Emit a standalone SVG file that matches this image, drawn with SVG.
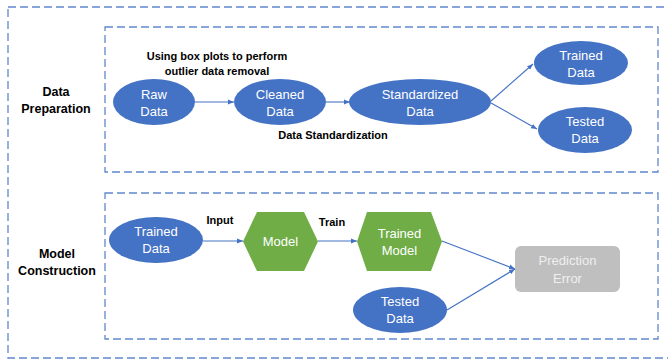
<svg xmlns="http://www.w3.org/2000/svg" width="668" height="360" viewBox="0 0 668 360">
<style>
.frame{fill:none;stroke:#4472C4;stroke-width:1.3;stroke-dasharray:8,4;opacity:0.85}
.ell{fill:#4472C4}
.hex{fill:#70AD47}
.nt{font-family:"Liberation Sans",Arial,sans-serif;font-size:13px;fill:#ffffff;text-anchor:middle}
.lb{font-family:"Liberation Sans",Arial,sans-serif;font-size:11px;font-weight:bold;fill:#000000;text-anchor:middle}
.sec{font-family:"Liberation Sans",Arial,sans-serif;font-size:12.5px;font-weight:bold;fill:#000000;text-anchor:middle}
.conn line{stroke:#4472C4;stroke-width:1.1;marker-end:url(#ah)}
</style>
<defs>
<marker id="ah" viewBox="0 0 10 10" refX="10" refY="5" markerWidth="6" markerHeight="6" orient="auto" markerUnits="userSpaceOnUse">
<path d="M0,1 L10,5 L0,9 z" fill="#4472C4"/>
</marker>
</defs>
<rect class="frame" x="8" y="7" width="680" height="351"/>
<rect class="frame" x="105" y="27" width="553" height="145"/>
<rect class="frame" x="105" y="193" width="553" height="146"/>
<text class="sec" x="56" y="96">Data</text>
<text class="sec" x="56" y="113">Preparation</text>
<text class="sec" x="57" y="258">Model</text>
<text class="sec" x="57" y="275">Construction</text>
<text class="lb" x="217" y="60">Using box plots to perform</text>
<text class="lb" x="217" y="75">outlier data removal</text>
<text class="lb" x="333" y="139">Data Standardization</text>
<text class="lb" x="220" y="224">Input</text>
<text class="lb" x="332" y="226">Train</text>
<g class="conn">
<line x1="195" y1="102" x2="234" y2="102"/>
<line x1="326" y1="102" x2="350" y2="102"/>
<line x1="491" y1="101" x2="533" y2="64"/>
<line x1="491" y1="103" x2="537" y2="129"/>
<line x1="203" y1="241" x2="243" y2="241"/>
<line x1="318" y1="241" x2="357" y2="241"/>
<line x1="442" y1="241" x2="515" y2="269"/>
<line x1="447" y1="310" x2="515" y2="269"/>
</g>
<g id="raw"><ellipse class="ell" cx="154" cy="102" rx="41" ry="23"/><text class="nt" x="154" y="99">Raw</text><text class="nt" x="154" y="116">Data</text></g>
<g id="cleaned"><ellipse class="ell" cx="280" cy="102" rx="46" ry="23"/><text class="nt" x="280" y="99">Cleaned</text><text class="nt" x="280" y="116">Data</text></g>
<g id="standardized"><ellipse class="ell" cx="420" cy="102" rx="71" ry="23"/><text class="nt" x="420" y="99">Standardized</text><text class="nt" x="420" y="116">Data</text></g>
<g id="trained1"><ellipse class="ell" cx="581" cy="63" rx="47" ry="22"/><text class="nt" x="581" y="60">Trained</text><text class="nt" x="581" y="77">Data</text></g>
<g id="tested1"><ellipse class="ell" cx="585" cy="130" rx="47" ry="23"/><text class="nt" x="585" y="126">Tested</text><text class="nt" x="585" y="143">Data</text></g>
<g id="trained2"><ellipse class="ell" cx="156" cy="240" rx="47" ry="23"/><text class="nt" x="156" y="236">Trained</text><text class="nt" x="156" y="253">Data</text></g>
<g id="model"><polygon class="hex" points="243,241.5 257,212 304,212 318,241.5 304,271 257,271"/><text class="nt" x="280.5" y="246">Model</text></g>
<g id="trainedmodel"><polygon class="hex" points="357,241.5 367,212 431,212 442,241.5 431,271 367,271"/><text class="nt" x="399.5" y="238">Trained</text><text class="nt" x="399.5" y="255">Model</text></g>
<g id="prediction"><rect x="515" y="246" width="105" height="46" rx="6" fill="#BFBFBF"/><text class="nt" x="567.5" y="265" style="fill:#EFEFEF">Prediction</text><text class="nt" x="567.5" y="283" style="fill:#EFEFEF">Error</text></g>
<g id="tested2"><ellipse class="ell" cx="400" cy="310" rx="47" ry="23"/><text class="nt" x="400" y="306">Tested</text><text class="nt" x="400" y="323">Data</text></g>
</svg>
